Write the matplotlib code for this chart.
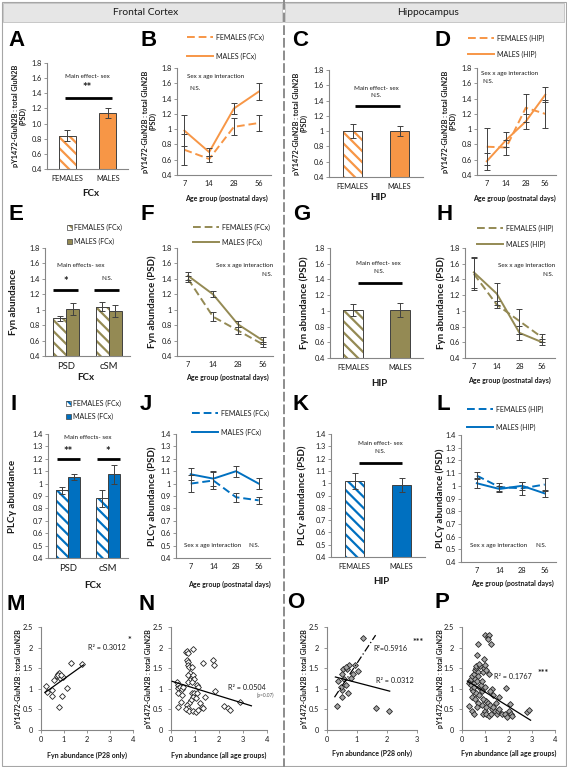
import numpy as np
import matplotlib
matplotlib.use('Agg')
import matplotlib.pyplot as plt
from matplotlib.lines import Line2D
from matplotlib.patches import Rectangle
from matplotlib.ticker import FuncFormatter

plt.rcParams['font.family'] = ['Lato', 'DejaVu Sans']
plt.rcParams['hatch.linewidth'] = 1.6

# ---------------- data ----------------
sexes = ['FEMALES', 'MALES']
ages = ['7', '14', '28', '56']
fractions = ['PSD', 'cSM']

A_mean = [0.84, 1.14]; A_err = [0.07, 0.07]
B_fem = [0.73, 0.61, 1.03, 1.08]; B_fem_err = [0.20, 0.04, 0.11, 0.11]
B_male = [0.98, 0.70, 1.27, 1.49]; B_male_err = [0.20, 0.05, 0.07, 0.11]
C_mean = [1.00, 1.00]; C_err = [0.09, 0.07]
D_fem = [0.77, 0.76, 1.28, 1.20]; D_fem_err = [0.24, 0.10, 0.18, 0.18]
D_male = [0.58, 0.86, 1.10, 1.45]; D_male_err = [0.11, 0.10, 0.10, 0.10]

E_fem = [0.89, 1.04]; E_fem_err = [0.03, 0.06]
E_male = [1.01, 0.98]; E_male_err = [0.08, 0.08]
F_fem = [1.40, 0.91, 0.73, 0.55]; F_fem_err = [0.04, 0.06, 0.04, 0.03]
F_male = [1.44, 1.20, 0.81, 0.60]; F_male_err = [0.05, 0.04, 0.04, 0.04]
G_mean = [1.01, 1.01]; G_err = [0.08, 0.09]
H_fem = [1.47, 1.08, 0.87, 0.66]; H_fem_err = [0.20, 0.04, 0.16, 0.05]
H_male = [1.49, 1.22, 0.72, 0.60]; H_male_err = [0.20, 0.14, 0.09, 0.04]

I_fem = [0.945, 0.88]; I_fem_err = [0.025, 0.065]
I_male = [1.055, 1.075]; I_male_err = [0.025, 0.075]
J_fem = [1.00, 1.025, 0.89, 0.865]; J_fem_err = [0.07, 0.07, 0.035, 0.03]
J_male = [1.075, 1.04, 1.10, 1.00]; J_male_err = [0.05, 0.06, 0.045, 0.045]
K_mean = [1.015, 0.985]; K_err = [0.065, 0.06]
L_fem = [1.08, 0.99, 0.98, 1.01]; L_fem_err = [0.03, 0.03, 0.05, 0.05]
L_male = [1.02, 0.975, 1.00, 0.94]; L_male_err = [0.04, 0.02, 0.03, 0.03]

M_x = [0.22, 0.25, 0.46, 0.46, 0.58, 0.68, 0.72, 0.80, 0.83, 0.97, 0.80, 0.93, 1.14, 1.32, 1.77, 0.75, 0.88]
M_y = [1.06, 0.92, 0.97, 0.83, 1.22, 1.31, 1.37, 1.38, 1.27, 1.29, 0.57, 0.82, 1.03, 1.63, 1.59, 1.33, 1.34]
M_fit = [0.40, 0.84]; M_fit_x = [0.18, 1.85]

N_x = [0.26, 0.31, 0.28, 0.31, 0.38, 0.44, 0.51, 0.42, 0.31, 0.47, 0.61, 0.67, 0.69, 0.90, 0.65, 0.72,
       0.72, 0.75, 0.86, 0.79, 0.72, 0.86, 0.93, 0.79, 0.97, 0.69, 0.86, 1.07, 1.14, 0.86, 0.97, 1.07,
       0.93, 1.03, 0.83, 0.75, 0.65, 0.72, 0.61, 0.75, 0.93, 1.04, 1.14, 1.21, 1.28, 1.35, 1.42, 1.35,
       1.74, 1.81, 1.83, 2.22, 2.39, 2.46, 2.88]
N_y = [1.17, 1.09, 1.03, 0.91, 1.05, 1.00, 1.05, 0.67, 0.55, 0.85, 1.89, 1.92, 1.86, 1.97, 1.70, 1.66,
       1.58, 1.52, 1.54, 1.38, 1.33, 1.29, 1.33, 1.21, 1.25, 1.17, 1.17, 1.09, 1.05, 0.89, 0.91, 0.89,
       0.81, 0.78, 0.73, 0.65, 0.61, 0.53, 0.51, 0.46, 0.46, 0.43, 0.49, 0.65, 0.57, 0.53, 0.81, 1.62,
       1.70, 1.58, 0.95, 0.59, 0.53, 0.49, 0.67]
N_fit = [-0.18, 1.19]; N_fit_x = [0.05, 3.35]

O_x = [0.32, 0.36, 0.51, 0.49, 0.54, 0.51, 0.58, 0.63, 0.71, 0.74, 0.68, 0.79, 0.88, 0.93, 1.02, 1.19, 1.62, 2.08, 0.45, 0.62]
O_y = [0.58, 1.18, 0.80, 0.98, 1.49, 1.36, 1.24, 1.10, 0.89, 1.57, 1.47, 1.27, 1.36, 1.58, 1.44, 2.23, 0.53, 0.45, 1.05, 1.52]
O_fit_p28 = [1.10, 0.52]; O_fit_p28_x = [0.25, 1.62]
O_fit_all = [-0.19, 1.34]; O_fit_all_x = [0.28, 2.09]

P_x = [0.30, 0.35, 0.40, 0.38, 0.45, 0.42, 0.50, 0.48, 0.55, 0.52, 0.60, 0.58, 0.62, 0.65, 0.50, 0.45,
       0.55, 0.60, 0.68, 0.70, 0.72, 0.75, 0.78, 0.80, 0.85, 0.88, 0.90, 0.95, 1.00, 1.05, 1.10, 0.92,
       0.85, 0.70, 0.65, 0.70, 0.65, 1.00, 1.10, 1.15, 1.12, 1.25, 0.95, 0.75, 1.00, 1.05, 1.15, 0.30,
       0.45, 0.50, 0.90, 1.00, 1.05, 1.15, 1.25, 1.30, 1.40, 1.50, 1.55, 1.60, 1.70, 1.85, 1.95, 2.00,
       2.05, 2.10, 2.15, 1.20, 1.35, 1.05, 1.30, 1.35, 1.60, 1.90, 1.20, 1.45, 2.80, 2.90]
P_y = [1.15, 1.20, 1.25, 1.10, 1.30, 1.00, 1.35, 0.95, 1.45, 1.15, 1.50, 1.25, 1.55, 1.20, 1.05, 0.80,
       0.75, 0.90, 1.40, 1.30, 1.05, 0.85, 1.55, 1.10, 1.20, 0.95, 1.40, 1.50, 1.05, 0.70, 0.65, 0.75,
       0.60, 0.65, 0.55, 2.08, 1.83, 2.30, 2.28, 2.30, 2.20, 2.08, 1.73, 1.60, 1.58, 1.45, 1.35, 0.58,
       0.45, 0.38, 0.40, 0.45, 0.38, 0.35, 0.40, 0.50, 0.45, 0.38, 0.45, 0.52, 0.40, 0.38, 0.32, 0.45,
       0.62, 0.40, 0.35, 0.60, 0.55, 0.55, 1.00, 0.85, 0.80, 1.03, 0.95, 0.65, 0.43, 0.48]
P_fit = [-0.35, 1.27]; P_fit_x = [0.23, 2.95]

# ---------------- style ----------------
W, H = 567, 767
ORANGE = '#F79646'; OLIVE = '#948A54'; BLUE = '#0070C0'
SP = '#868686'; TXT = '#1a1a1a'; EB = '#404040'
HATCH = '\\\\\\'
DASH = (0, (4, 2))

fig = plt.figure(figsize=(W / 100, H / 100), dpi=100)
fig.patch.set_facecolor('white')

ov = fig.add_axes([0, 0, 1, 1])
ov.set_xlim(0, W); ov.set_ylim(H, 0); ov.axis('off')

# frame, headers, separator
ov.add_patch(Rectangle((1.5, 1.5), W - 3, H - 3, fill=False, ec='#a6a6a6', lw=0.8))
ov.add_patch(Rectangle((3, 3), 279, 19, fc='#e6e6e6', ec='#c0c0c0', lw=0.6))
ov.add_patch(Rectangle((285, 3), 279, 19, fc='#e6e6e6', ec='#c0c0c0', lw=0.6))
ov.text(146, 12.5, 'Frontal Cortex', ha='center', va='center', fontsize=7.4, color=TXT)
ov.text(428, 12.5, 'Hippocampus', ha='center', va='center', fontsize=7.4, color=TXT)
ov.add_line(Line2D([283.5, 283.5], [0, H], color='#8c8c8c', lw=1.4, dashes=(5, 1.5)))

letters = [('A', 8, 40), ('B', 140, 40), ('C', 292, 40), ('D', 435, 40),
           ('E', 9, 215), ('F', 140, 215), ('G', 293, 215), ('H', 437, 215),
           ('I', 10, 404), ('J', 140, 405), ('K', 293, 404), ('L', 437, 404),
           ('M', 7, 605), ('N', 138, 605), ('O', 287, 603), ('P', 435, 603)]
for t, x, y in letters:
    ov.text(x, y, t, ha='left', va='center', fontsize=16, fontweight='bold',
            family=['Liberation Sans', 'DejaVu Sans'], color='black')


def leg_lines(x0, x1, y_f, y_m, color, lab_f, lab_m):
    ov.add_line(Line2D([x0, x1], [y_f, y_f], color=color, lw=1.4, ls=DASH))
    ov.add_line(Line2D([x0, x1], [y_m, y_m], color=color, lw=1.4))
    ov.text(x1 + 3, y_f, lab_f, va='center', fontsize=5, color=TXT)
    ov.text(x1 + 3, y_m, lab_m, va='center', fontsize=5, color=TXT)


def leg_boxes(x0, y_f, y_m, color, lab_f, lab_m):
    ov.add_patch(Rectangle((x0, y_f - 2.5), 5, 5, fc='white', ec=color, hatch=HATCH, lw=0))
    ov.add_patch(Rectangle((x0, y_f - 2.5), 5, 5, fill=False, ec=EB, lw=0.5))
    ov.add_patch(Rectangle((x0, y_m - 2.5), 5, 5, fc=color, ec=EB, lw=0.5))
    ov.text(x0 + 7, y_f, lab_f, va='center', fontsize=5, color=TXT)
    ov.text(x0 + 7, y_m, lab_m, va='center', fontsize=5, color=TXT)


leg_lines(187, 213, 37, 56, ORANGE, 'FEMALES (FCx)', 'MALES (FCx)')
leg_lines(468, 494, 38, 54, ORANGE, 'FEMALES (HIP)', 'MALES (HIP)')
leg_boxes(67, 227, 241, OLIVE, 'FEMALES (FCx)', 'MALES (FCx)')
leg_lines(193, 219, 227, 242, OLIVE, 'FEMALES (FCx)', 'MALES (FCx)')
leg_lines(477, 503, 228, 244, OLIVE, 'FEMALES (HIP)', 'MALES (HIP)')
leg_boxes(66, 403, 416, BLUE, 'FEMALES (FCx)', 'MALES (FCx)')
leg_lines(192, 218, 413, 432, BLUE, 'FEMALES (FCx)', 'MALES (FCx)')
leg_lines(467, 493, 409, 427, BLUE, 'FEMALES (HIP)', 'MALES (HIP)')


def gfmt(v, p):
    return '%g' % round(v, 2)


def mkax(x0, x1, y0, y1, ylim, ystep, fmt=None):
    ax = fig.add_axes([x0 / W, 1 - y1 / H, (x1 - x0) / W, (y1 - y0) / H])
    ax.set_facecolor('none')
    for s in ['top', 'right']:
        ax.spines[s].set_visible(False)
    for s in ['left', 'bottom']:
        ax.spines[s].set_color(SP); ax.spines[s].set_linewidth(0.8)
    ax.tick_params(axis='both', labelsize=5.3, colors=SP, labelcolor=TXT, length=2, width=0.6, pad=1.5)
    ax.set_ylim(*ylim)
    ax.set_yticks(np.arange(ylim[0], ylim[1] + 1e-9, ystep))
    ax.yaxis.set_major_formatter(FuncFormatter(fmt if fmt else gfmt))
    return ax


def ylab(ax, txt, xpx, fs=7.0):
    bb = ax.get_position()
    fig.text(xpx / W, (bb.y0 + bb.y1) / 2, txt, rotation=90, ha='center', va='center',
             fontsize=fs, fontweight='bold', color=TXT, linespacing=1.05)


def xlab(txt, xpx, ypx, fs=5.0):
    fig.text(xpx / W, 1 - ypx / H, txt, ha='center', va='center', fontsize=fs,
             fontweight='bold', color=TXT)


def bars2(ax, means, errs, color):
    x = np.arange(len(sexes))
    ax.bar(x[0], means[0], 0.42, color='white', edgecolor=color, hatch=HATCH, lw=0)
    ax.bar(x[0], means[0], 0.42, fill=False, edgecolor=EB, lw=0.7)
    ax.bar(x[1], means[1], 0.42, color=color, edgecolor=EB, lw=0.7)
    ax.errorbar(x, means, yerr=errs, fmt='none', ecolor=EB, elinewidth=0.7, capsize=2, capthick=0.7)
    ax.set_xlim(-0.5, 1.5)
    ax.set_xticks(x, sexes)
    ax.tick_params(axis='x', length=0, pad=4.5)


def bars4(ax, fem, ferr, male, merr, color):
    x = np.arange(len(fractions))
    w = 0.31
    ax.bar(x - w / 2, fem, w, color='white', edgecolor=color, hatch=HATCH, lw=0)
    ax.bar(x - w / 2, fem, w, fill=False, edgecolor=EB, lw=0.7)
    ax.bar(x + w / 2, male, w, color=color, edgecolor=EB, lw=0.7)
    ax.errorbar(x - w / 2, fem, yerr=ferr, fmt='none', ecolor=EB, elinewidth=0.7, capsize=2, capthick=0.7)
    ax.errorbar(x + w / 2, male, yerr=merr, fmt='none', ecolor=EB, elinewidth=0.7, capsize=2, capthick=0.7)
    ax.set_xlim(-0.5, 1.5)
    ax.set_xticks(x, fractions)
    ax.tick_params(axis='x', length=0, pad=4.5, labelsize=6.8)


def lines(ax, fem, ferr, male, merr, color, xlim):
    x = np.arange(len(ages))
    ax.plot(x, fem, color=color, lw=1.4, ls=DASH)
    ax.plot(x, male, color=color, lw=1.4)
    ax.errorbar(x, fem, yerr=ferr, fmt='none', ecolor=EB, elinewidth=0.7, capsize=2, capthick=0.7)
    ax.errorbar(x, male, yerr=merr, fmt='none', ecolor=EB, elinewidth=0.7, capsize=2, capthick=0.7)
    ax.set_xlim(*xlim)
    ax.set_xticks(x, ages)
    ax.tick_params(axis='x', length=0, pad=3.5)


def sig(ax, x0, x1, y):
    ax.plot([x0, x1], [y, y], color='black', lw=2.0, solid_capstyle='butt')


def note(ax, x, y, s, fs=4.5, ha='center', color=TXT, **kw):
    ax.text(x, y, s, ha=ha, va='center', fontsize=fs, color=color, **kw)


# ---------------- row 1 ----------------
axA = mkax(47, 128, 63, 169, (0.4, 1.8), 0.2, fmt=lambda v, p: '%.1f' % v)
bars2(axA, A_mean, A_err, ORANGE)
sig(axA, -0.05, 1.1, 1.34)
note(axA, 0.5, 1.625, 'Main effect- sex')
note(axA, 0.5, 1.47, '**', fs=8, fontweight='bold')
ylab(axA, 'pY1472-GluN2B : total GluN2B\n(PSD)', 19, fs=5.2)
xlab('FCx', 91, 193, fs=7)

axB = mkax(177, 271, 68, 175, (0.4, 1.8), 0.2)
lines(axB, B_fem, B_fem_err, B_male, B_male_err, ORANGE, (-0.3, 3.5))
note(axB, 0.1, 1.69, 'Sex x age interaction', ha='left')
note(axB, 0.2, 1.53, 'N.S.', ha='left')
ylab(axB, 'pY1472-GluN2B : total GluN2B\n(PSD)', 149, fs=5.2)
xlab('Age group (postnatal days)', 226, 198)

axC = mkax(329, 423, 70, 177, (0.4, 1.8), 0.2)
bars2(axC, C_mean, C_err, ORANGE)
sig(axC, 0.05, 1.0, 1.33)
note(axC, 0.5, 1.56, 'Main effect- sex')
note(axC, 0.5, 1.46, 'N.S.')
ylab(axC, 'pY1472-GluN2B : total GluN2B\n(PSD)', 300, fs=5.2)
xlab('HIP', 378, 197, fs=7)

axD = mkax(477, 556, 68, 175, (0.4, 1.8), 0.2)
lines(axD, D_fem, D_fem_err, D_male, D_male_err, ORANGE, (-0.5, 3.55))
note(axD, -0.27, 1.73, 'Sex x age interaction', ha='left')
note(axD, -0.2, 1.62, 'N.S.', ha='left')
ylab(axD, 'pY1472-GluN2B : total GluN2B\n(PSD)', 449, fs=5.2)
xlab('Age group (postnatal days)', 514, 198)

# ---------------- row 2 ----------------
axE = mkax(45, 130, 248, 356, (0.4, 1.8), 0.2)
bars4(axE, E_fem, E_fem_err, E_male, E_male_err, OLIVE)
sig(axE, -0.31, 0.28, 1.26)
sig(axE, 0.65, 1.24, 1.26)
note(axE, 0.0, 1.36, '*', fs=8, fontweight='bold')
note(axE, 0.96, 1.40, 'N.S.')
note(axE, 0.35, 1.57, 'Main effects- sex')
ylab(axE, 'Fyn abundance', 14)
xlab('FCx', 86, 377, fs=7)

axF = mkax(177, 273, 248, 356, (0.4, 1.8), 0.2)
lines(axF, F_fem, F_fem_err, F_male, F_male_err, OLIVE, (-0.44, 3.4))
note(axF, 3.4, 1.57, 'Sex x age interaction', ha='right')
note(axF, 3.4, 1.46, 'N.S.', ha='right')
ylab(axF, 'Fyn abundance (PSD)', 152)
xlab('Age group (postnatal days)', 227, 377)

axG = mkax(330, 423, 248, 358, (0.4, 1.8), 0.2)
bars2(axG, G_mean, G_err, OLIVE)
sig(axG, 0.1, 1.05, 1.36)
note(axG, 0.55, 1.60, 'Main effect- sex')
note(axG, 0.55, 1.50, 'N.S.')
ylab(axG, 'Fyn abundance (PSD)', 304)
xlab('HIP', 379, 383, fs=7)

axH = mkax(465, 555, 248, 358, (0.4, 1.8), 0.2)
lines(axH, H_fem, H_fem_err, H_male, H_male_err, OLIVE, (-0.39, 3.56))
note(axH, 3.56, 1.58, 'Sex x age interaction', ha='right')
note(axH, 3.5, 1.46, 'N.S.', ha='right')
ylab(axH, 'Fyn abundance (PSD)', 441)
xlab('Age group (postnatal days)', 509, 380)

# ---------------- row 3 ----------------
axI = mkax(48, 128, 434, 558, (0.4, 1.4), 0.1)
bars4(axI, I_fem, I_fem_err, I_male, I_male_err, BLUE)
sig(axI, -0.28, 0.3, 1.196)
sig(axI, 0.72, 1.3, 1.196)
note(axI, 0.0, 1.26, '**', fs=8, fontweight='bold')
note(axI, 1.0, 1.26, '*', fs=8, fontweight='bold')
note(axI, 0.5, 1.37, 'Main effects- sex')
ylab(axI, 'PLCγ abundance', 13)
xlab('FCx', 93, 585, fs=7)

axJ = mkax(176, 270, 434, 558, (0.4, 1.4), 0.1)
lines(axJ, J_fem, J_fem_err, J_male, J_male_err, BLUE, (-0.65, 3.5))
note(axJ, -0.3, 0.5, 'Sex x age interaction', ha='left')
note(axJ, 2.8, 0.5, 'N.S.', ha='center')
ylab(axJ, 'PLCγ abundance (PSD)', 152)
xlab('Age group (postnatal days)', 229, 584)

axK = mkax(331, 425, 434, 557, (0.4, 1.4), 0.1)
bars2(axK, K_mean, K_err, BLUE)
sig(axK, 0.1, 1.0, 1.165)
note(axK, 0.55, 1.32, 'Main effect- sex')
note(axK, 0.55, 1.26, 'N.S.')
ylab(axK, 'PLCγ abundance (PSD)', 302)
xlab('HIP', 381, 581, fs=7)

axL = mkax(461, 556, 435, 562, (0.4, 1.4), 0.1)
lines(axL, L_fem, L_fem_err, L_male, L_male_err, BLUE, (-0.7, 3.5))
note(axL, -0.3, 0.53, 'Sex x age interaction', ha='left')
note(axL, 2.85, 0.53, 'N.S.', ha='center')
ylab(axL, 'PLCγ abundance (PSD)', 440)
xlab('Age group (postnatal days)', 512, 583)


# ---------------- row 4 ----------------
def scat(ax, xs, ys, face, xmax):
    ax.plot(xs, ys, ls='none', marker='D', ms=3.0, mfc=face, mec='#262626', mew=0.6, zorder=3)
    ax.set_xlim(0, xmax)
    ax.set_xticks(np.arange(0, xmax + 1))
    ax.tick_params(axis='x', pad=2.5)
    ax.tick_params(axis='y', pad=4.0)


def fit(ax, coef, xr, **kw):
    xx = np.array(xr)
    ax.plot(xx, coef[0] * xx + coef[1], color='black', lw=0.9, zorder=4, **kw)


axM = mkax(41, 133, 627, 730, (0, 2.5), 0.5)
scat(axM, M_x, M_y, 'white', 4)
fit(axM, M_fit, M_fit_x)
note(axM, 2.85, 2.0, 'R² = 0.3012', fs=5.2)
note(axM, 3.85, 2.17, '*', fs=6.5, fontweight='bold')
ylab(axM, 'pY1472-GluN2B : total GluN2B', 19, fs=5.0)
xlab('Fyn abundance (P28 only)', 87, 755)

axN = mkax(171, 267, 627, 730, (0, 2.5), 0.5)
scat(axN, N_x, N_y, 'white', 4)
fit(axN, N_fit, N_fit_x)
note(axN, 3.15, 1.04, 'R² = 0.0504', fs=5.2)
note(axN, 3.95, 0.84, '(p=0.07)', fs=3.4, color='#595959')
ylab(axN, 'pY1472-GluN2B : total GluN2B', 149, fs=5.0)
xlab('Fyn abundance (all age groups)', 219, 755)

axO = mkax(327, 417, 627, 730, (0, 2.5), 0.5)
scat(axO, O_x, O_y, '#a6a6a6', 3)
fit(axO, O_fit_p28, O_fit_p28_x, dashes=(6, 2, 1, 2))
fit(axO, O_fit_all, O_fit_all_x)
note(axO, 2.1, 1.99, 'R²=0.5916', fs=5.2)
note(axO, 3.05, 2.12, '***', fs=6.5, fontweight='bold')
note(axO, 2.25, 1.21, 'R² = 0.0312', fs=5.2)
ylab(axO, 'pY1472-GluN2B : total GluN2B', 305, fs=5.0)
xlab('Fyn abundance (P28 only)', 372, 753)

axP = mkax(462, 555, 627, 730, (0, 2.5), 0.5)
scat(axP, P_x, P_y, '#a6a6a6', 4)
fit(axP, P_fit, P_fit_x)
note(axP, 2.2, 1.29, 'R² = 0.1767', fs=5.2)
note(axP, 3.5, 1.36, '***', fs=6.5, fontweight='bold')
ylab(axP, 'pY1472-GluN2B : total GluN2B', 440, fs=5.0)
xlab('Fyn abundance (all age groups)', 509, 753)

fig.savefig('out.png', dpi=100, facecolor='white')
